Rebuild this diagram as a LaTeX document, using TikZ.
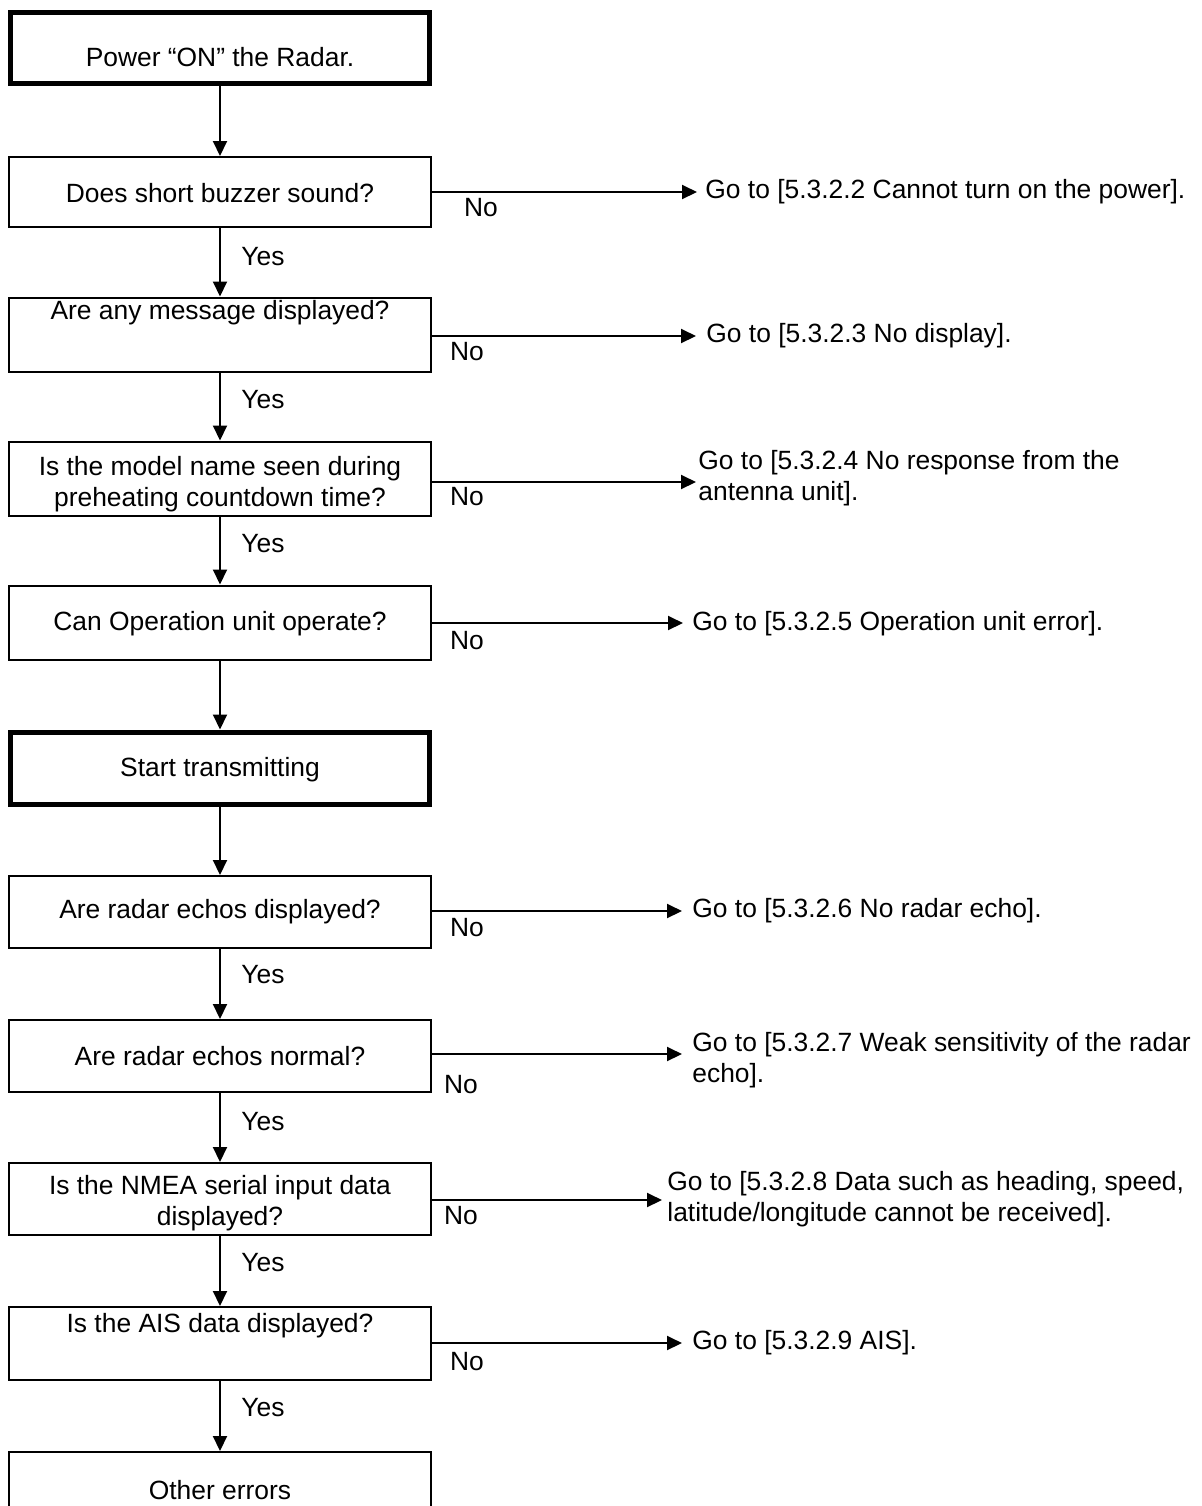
\documentclass[tikz,border=0pt]{standalone}
\usepackage{fontspec}
\setmainfont{Liberation Sans}
\usetikzlibrary{arrows.meta}
\tikzset{
  box/.style={draw, line width=1pt, minimum width=211pt, minimum height=37pt, inner sep=0pt},
  thickbox/.style={draw, line width=2.5pt, minimum width=209.5pt, minimum height=35.5pt, inner sep=0pt},
  txt/.style={inner sep=0pt, align=center, font=\fontsize{13.2}{15.5}\selectfont},
  gtxt/.style={inner sep=0pt, anchor=west, align=left, font=\fontsize{13.2}{15.5}\selectfont},
  lbl/.style={inner sep=0pt, font=\fontsize{13.2}{15.5}\selectfont},
  arr/.style={line width=1pt, -{Triangle[length=7.5pt,width=7pt]}}
}
\begin{document}
\begin{tikzpicture}[x=0.5pt,y=-0.5pt]
\useasboundingbox (0,0) rectangle (1201,1506);
\clip (0,0) rectangle (1201,1506);
% boxes
\node[thickbox] (b1) at (220,48) {};
\node[txt] (t1) at (220,57) {Power “ON” the Radar.};
\node[box, minimum height=35pt] (b2) at (220,192) {};
\node[txt] (t2) at (220,193) {Does short buzzer sound?};
\node[box] (b3) at (220,334.5) {};
\node[txt] (t3) at (220,313) {Are any message displayed?};
\node[box] (b4) at (220,478.5) {};
\node[txt] (t4) at (220,484) {Is the model name seen during\\preheating countdown time?};
\node[box] (b5) at (220,622.5) {};
\node[txt] (t5) at (220,624) {Can Operation unit operate?};
\node[thickbox, minimum height=36pt] (b6) at (220,768) {};
\node[txt] (t6) at (220,770) {Start transmitting};
\node[box, minimum height=36pt] (b7) at (220,912) {};
\node[txt] (t7) at (220,912) {Are radar echos displayed?};
\node[box, minimum height=36pt] (b8) at (220,1056) {};
\node[txt] (t8) at (220,1056) {Are radar echos normal?};
\node[box, minimum height=36pt] (b9) at (220,1199) {};
\node[txt] (t9) at (220,1203) {Is the NMEA serial input data\\displayed?};
\node[box, minimum height=36.5pt] (b10) at (220,1343.5) {};
\node[txt] (t10) at (220,1326) {Is the AIS data displayed?};
\node[box, minimum height=40pt] (b11) at (220,1492) {};
\node[txt] (t11) at (220,1490) {Other errors};
% vertical arrows
\draw[arr] (b1.south) -- (b2.north);
\draw[arr] (b2.south) -- (b3.north);
\draw[arr] (b3.south) -- (b4.north);
\draw[arr] (b4.south) -- (b5.north);
\draw[arr] (b5.south) -- (b6.north);
\draw[arr] (b6.south) -- (b7.north);
\draw[arr] (b7.south) -- (b8.north);
\draw[arr] (b8.south) -- (b9.north);
\draw[arr] (b9.south) -- (b10.north);
\draw[arr] (b10.south) -- (b11.north);
% yes labels
\node[lbl, anchor=west] (y2) at (241,257) {Yes};
\node[lbl, anchor=west] (y3) at (241,400) {Yes};
\node[lbl, anchor=west] (y4) at (241,544) {Yes};
\node[lbl, anchor=west] (y7) at (241,975) {Yes};
\node[lbl, anchor=west] (y8) at (241,1122) {Yes};
\node[lbl, anchor=west] (y9) at (241,1263) {Yes};
\node[lbl, anchor=west] (y10) at (241,1408) {Yes};
% go-to texts
\node[gtxt] (g2) at (705,192) {Go to [5.3.2.2 Cannot turn on the power].};
\node[gtxt] (g3) at (706,336) {Go to [5.3.2.3 No display].};
\node[gtxt] (g4) at (698,478) {Go to [5.3.2.4 No response from the\\antenna unit].};
\node[gtxt] (g5) at (692,624) {Go to [5.3.2.5 Operation unit error].};
\node[gtxt] (g7) at (692,911) {Go to [5.3.2.6 No radar echo].};
\node[gtxt] (g8) at (692,1060) {Go to [5.3.2.7 Weak sensitivity of the radar\\echo].};
\node[gtxt] (g9) at (667,1199) {Go to [5.3.2.8 Data such as heading, speed,\\latitude/longitude cannot be received].};
\node[gtxt] (g10) at (692,1343) {Go to [5.3.2.9 AIS].};
% no arrows
\coordinate (e2) at (697,192);
\coordinate (e3) at (696,336);
\coordinate (e4) at (696,482);
\coordinate (e5) at (683,623);
\coordinate (e7) at (682,911);
\coordinate (e8) at (682,1054);
\coordinate (e9) at (662,1200);
\coordinate (e10) at (682,1343);
\draw[arr] (b2.east |- e2) -- (e2);
\draw[arr] (b3.east |- e3) -- (e3);
\draw[arr] (b4.east |- e4) -- (e4);
\draw[arr] (b5.east |- e5) -- (e5);
\draw[arr] (b7.east |- e7) -- (e7);
\draw[arr] (b8.east |- e8) -- (e8);
\draw[arr] (b9.east |- e9) -- (e9);
\draw[arr] (b10.east |- e10) -- (e10);
% no labels
\node[lbl] (n2) at (481,208) {No};
\node[lbl] (n3) at (467,352) {No};
\node[lbl] (n4) at (467,497) {No};
\node[lbl] (n5) at (467,641) {No};
\node[lbl] (n7) at (467,928) {No};
\node[lbl] (n8) at (461,1085) {No};
\node[lbl] (n9) at (461,1216) {No};
\node[lbl] (n10) at (467,1362) {No};
\end{tikzpicture}
\end{document}
